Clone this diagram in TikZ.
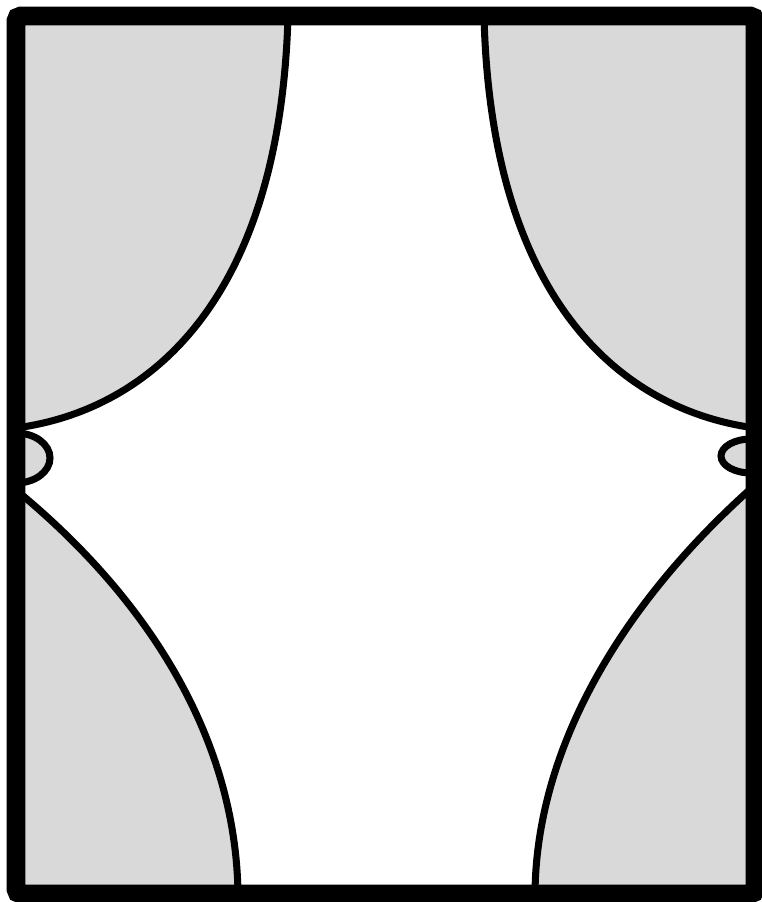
\documentclass[tikz,border=0pt]{standalone}
\usepackage{tikz}

\begin{document}
\begin{tikzpicture}[x=0.03cm,y=-0.03cm,
    curve/.style={line width=6pt},
    shaded/.style={fill=black!15}]
\useasboundingbox (0,0) rectangle (762,902);

% Shaded corners
\fill[shaded] (16,16) -- (288,16) .. controls (280,300) and (150,410) .. (16,428) -- cycle;
\fill[shaded] (755,16) -- (484,16) .. controls (491,300) and (621,410) .. (755,428) -- cycle;
\fill[shaded] (16,894) -- (238,894) .. controls (236,740) and (150,600) .. (16,490) -- cycle;
\fill[shaded] (755,894) -- (535,894) .. controls (536,745) and (625,600) .. (755,485) -- cycle;

% Small lobes at the sides
\begin{scope}
  \clip (16,16) rectangle (755,894);
  \draw[curve,shaded] (16,458) ellipse (34 and 25);
  \draw[curve,shaded] (751,456) ellipse (30 and 17);
\end{scope}

% Boundary curves
\draw[curve] (288,16) .. controls (280,300) and (150,410) .. (16,428);
\draw[curve] (484,16) .. controls (491,300) and (621,410) .. (755,428);
\draw[curve] (238,894) .. controls (236,740) and (150,600) .. (16,490);
\draw[curve] (535,894) .. controls (536,745) and (625,600) .. (755,485);

% Frame
\draw[line width=16pt,rounded corners=4pt] (16,16) rectangle (755,894);

\end{tikzpicture}
\end{document}
